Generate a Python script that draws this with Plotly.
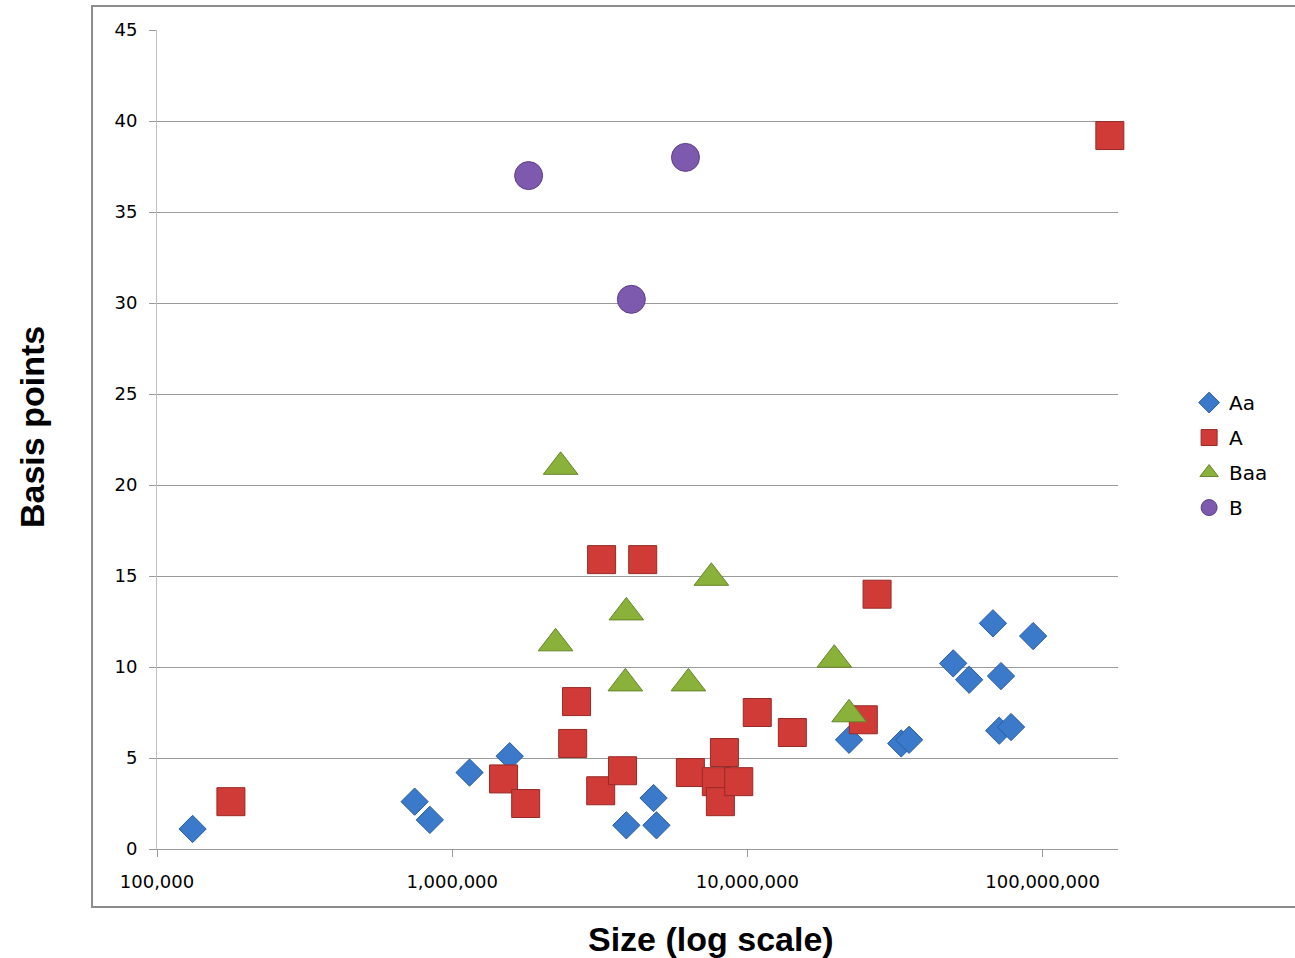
import plotly.graph_objects as go

# ---- data ----
aa_size = [132000, 746000, 840000, 1145000, 1566000, 3890000, 4920000, 4810000,
           22100000, 33200000, 35300000, 49800000, 56400000, 67900000, 72300000,
           71300000, 78200000, 92900000]
aa_bp = [1.1, 2.6, 1.6, 4.2, 5.1, 1.3, 1.3, 2.8,
         6.0, 5.8, 6.0, 10.2, 9.3, 12.4, 9.5,
         6.5, 6.7, 11.7]

a_size = [178000, 1493000, 1774000, 2560000, 2638000, 3207000, 4420000, 3185000,
          3777000, 6410000, 7850000, 8360000, 8100000, 9350000, 10800000,
          14200000, 24700000, 27500000, 169000000]
a_bp = [2.6, 3.85, 2.5, 5.8, 8.1, 15.9, 15.9, 3.2,
        4.3, 4.2, 3.7, 5.3, 2.6, 3.7, 7.5,
        6.4, 7.1, 14.0, 39.2]

baa_size = [2240000, 2330000, 3890000, 3860000, 6310000, 7550000, 19700000, 22100000]
baa_bp = [11.3, 21.0, 13.0, 9.1, 9.1, 14.9, 10.4, 7.4]

b_size = [1815000, 6170000, 4045000]
b_bp = [37.0, 38.0, 30.2]

x_tickvals = [1e5, 1e6, 1e7, 1e8]
x_ticktext = ["100,000", "1,000,000", "10,000,000", "100,000,000"]

fig = go.Figure()

series = [
    ("Aa", aa_size, aa_bp, "diamond", 21, "#3B7ACA", "#2A5D9C"),
    ("A", a_size, a_bp, "square", 28, "#D13B37", "#962A26"),
    ("Baa", baa_size, baa_bp, "triangle-up", 30, "#8AB13A", "#66852A"),
    ("B", b_size, b_bp, "circle", 28, "#7D5AAD", "#5B3F88"),
]
for i, (name, xs, ys, sym, sz, col, lcol) in enumerate(series):
    fig.add_trace(go.Scatter(
        x=xs, y=ys, mode="markers", name=name, legendgroup=name,
        cliponaxis=False,
        marker=dict(symbol=sym, size=sz, color=col,
                    line=dict(color=lcol, width=1)),
    ))

fig.update_layout(
    width=1295, height=958,
    margin=dict(l=157, r=177, t=30, b=109),
    paper_bgcolor="white", plot_bgcolor="white",
    font=dict(family="DejaVu Sans", size=18, color="#000000"),
    showlegend=True,
    legend=dict(x=1.074, y=0.481, xanchor="left", yanchor="middle",
                font=dict(family="DejaVu Sans", size=20, color="#000"),
                traceorder="grouped", tracegroupgap=6,
                itemsizing="trace", itemwidth=30,
                bgcolor="rgba(0,0,0,0)"),
    xaxis=dict(type="log", range=[5, 8.2555],
               tickvals=x_tickvals, ticktext=x_ticktext,
               showgrid=False, zeroline=False,
               showline=True, linecolor="#9a9a9a", linewidth=1,
               ticks="outside", ticklen=7, tickcolor="#9a9a9a",
               ticklabelstandoff=9,
               tickfont=dict(family="DejaVu Sans", size=18)),
    yaxis=dict(range=[0, 45], dtick=5, tick0=0,
               showgrid=True, gridcolor="#9a9a9a", gridwidth=1,
               zeroline=False,
               showline=True, linecolor="#c0c0c0", linewidth=1,
               ticks="outside", ticklen=7, tickcolor="#9a9a9a",
               ticklabelstandoff=8,
               tickfont=dict(family="DejaVu Sans", size=18)),
    shapes=[dict(type="rect", xref="paper", yref="paper",
                 x0=-0.0676, x1=1.25, y0=-0.0708, y1=1.0293,
                 line=dict(color="#8c8c8c", width=2), layer="below")],
    annotations=[
        dict(text="<b>Size (log scale)</b>", xref="paper", yref="paper",
             x=(711 - 157) / 961, y=(849 - 939) / 819,
             xanchor="center", yanchor="middle", showarrow=False,
             font=dict(family="Liberation Sans", size=34, color="#000")),
        dict(text="<b>Basis points</b>", xref="paper", yref="paper",
             x=(32 - 157) / 961, y=(849 - 427) / 819, textangle=-90,
             xanchor="center", yanchor="middle", showarrow=False,
             font=dict(family="Liberation Sans", size=34, color="#000")),
    ],
)

fig.write_html("out.html")
